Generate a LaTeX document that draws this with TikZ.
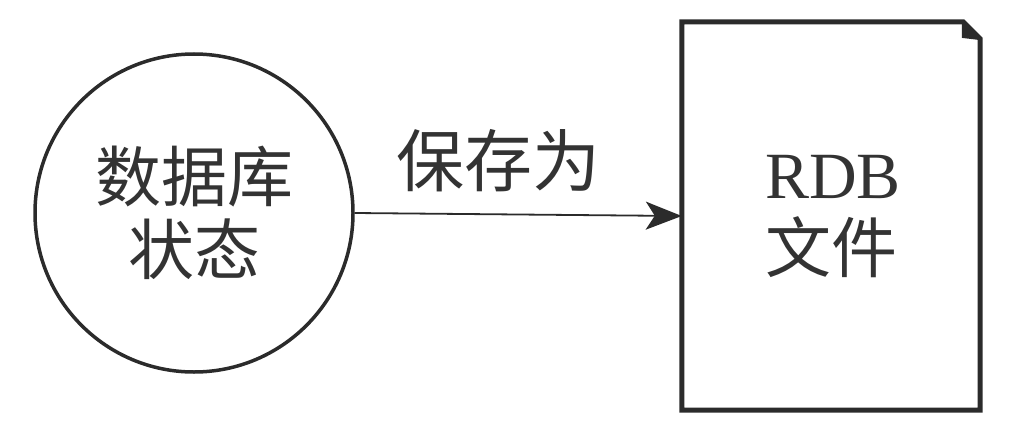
\documentclass[tikz,border=0pt]{standalone}
\usepackage{fontspec}
\newfontfamily\cjk{Noto Sans CJK SC}
\newfontfamily\rdbfont{Liberation Serif}
\usetikzlibrary{arrows.meta,positioning}
\definecolor{inkgray}{HTML}{2B2B2B}
\definecolor{textgray}{HTML}{333333}

\begin{document}
\begin{tikzpicture}[x=1pt,y=-1pt,
  cjkbig/.style={font=\cjk\fontsize{66}{73}\selectfont,text=textgray},
  docline/.style={draw=inkgray,line width=5pt,line join=miter}]
\useasboundingbox (0,0) rectangle (1032,420);
% Database state
\node[circle,draw=inkgray,line width=3.5pt,minimum size=318pt,inner sep=0pt,
  align=center,cjkbig] (state) at (194,213) {数据库\\状态};
% RDB file
\node[minimum width=298pt,minimum height=388pt,inner sep=0pt] (file) at (831,216) {};
\draw[docline] (file.north west) -- ([xshift=-17pt]file.north east)
  -- ([yshift=-17pt]file.north east) -- (file.south east)
  -- (file.south west) -- cycle;
\draw[draw=inkgray,line width=2.5pt,fill=inkgray] ([xshift=-17pt]file.north east)
  -- ([xshift=-17pt,yshift=-15pt]file.north east) -- ([yshift=-17pt]file.north east);
\node[inner sep=0pt,text=textgray,font=\rdbfont\fontsize{66}{70}\selectfont] (rdb) at (833,177) {RDB};
\node[inner sep=0pt,cjkbig] (filename) at (831,247) {文件};
% Save as
\draw[draw=inkgray,line width=1.8pt,-{Stealth[length=36pt,width=28pt,inset=9pt]}]
  (state.east) -- node[pos=0.44,above=18pt,cjkbig,font=\cjk\fontsize{68}{73}\selectfont] (save) {保存为} (file.west);
\end{tikzpicture}
\end{document}
